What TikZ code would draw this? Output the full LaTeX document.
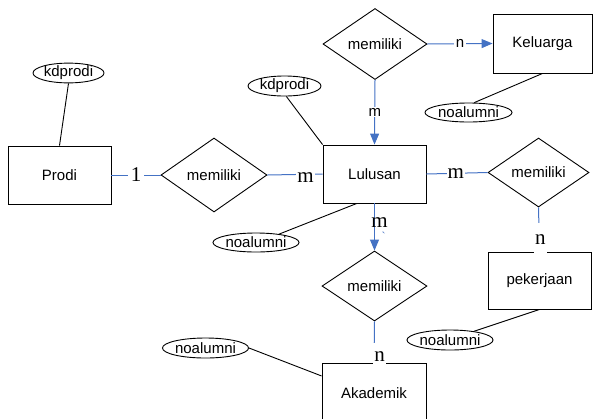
\documentclass[tikz,border=0pt]{standalone}
\usepackage{fontspec}
\setmainfont{Liberation Sans}
\newfontfamily\serifl{Liberation Serif}
\usetikzlibrary{shapes.geometric,arrows.meta}
\definecolor{relblue}{RGB}{68,114,196}
\begin{document}
\begin{tikzpicture}[x=1pt,y=-1pt,
  every node/.style={font=\fontsize{15}{17}\selectfont},
  entity/.style={draw,line width=0.9pt,rectangle,inner sep=0pt},
  relation/.style={draw,line width=0.9pt,diamond,inner sep=0pt},
  attrib/.style={draw,line width=0.9pt,ellipse,inner sep=0pt},
  attline/.style={draw,line width=0.9pt},
  relline/.style={draw=relblue,line width=1pt},
  relarrow/.style={relline,-{Triangle[length=11pt,width=9pt]}},
  sanslbl/.style={fill=white,inner xsep=1.5pt,inner ysep=1pt,text=black},
  seriflbl/.style={font=\serifl\fontsize{21}{23}\selectfont,text=black},
  cutlbl/.style={seriflbl,fill=white,inner xsep=1pt,inner ysep=0.5pt}]
\useasboundingbox (0,0) rectangle (593,418);

% entities
\node[entity,minimum width=99,minimum height=59] (keluarga) at (542.5,43.5) {Keluarga};
\node[entity,minimum width=103,minimum height=58] (lulusan) at (374.5,174) {Lulusan};
\node[entity,minimum width=103,minimum height=58] (prodi) at (59.5,175) {Prodi};
\node[entity,minimum width=103,minimum height=57] (pekerjaan) at (539.5,280.5) {pekerjaan};
\node[entity,minimum width=104,minimum height=60] (akademik) at (374,393) {Akademik};

% relationships
\node[relation,minimum width=104,minimum height=71] (dtop) at (375,44) {memiliki};
\node[relation,minimum width=106,minimum height=74] (dleft) at (214,175) {memiliki};
\node[relation,minimum width=101,minimum height=69] (dright) at (538.5,172.5) {memiliki};
\node[relation,minimum width=105,minimum height=70] (dbot) at (374.5,286) {memiliki};

% attributes
\node[attrib,minimum width=71,minimum height=16] (kd1) at (68.5,73) {kdprodi};
\node[attrib,minimum width=73,minimum height=20] (kd2) at (284.5,86) {kdprodi};
\node[attrib,minimum width=87,minimum height=19] (na1) at (468.5,112.5) {noalumni};
\node[attrib,minimum width=84,minimum height=19] (na2) at (256,242.5) {noalumni};
\node[attrib,minimum width=84,minimum height=20] (na3) at (450,340) {noalumni};
\node[attrib,minimum width=85,minimum height=20] (na4) at (205.5,348) {noalumni};

% attribute lines
\draw[attline] (kd1.south) -- (prodi.north);
\draw[attline] (kd2.-80) -- (lulusan.north west);
\draw[attline] (na1.60) -- (keluarga.south);
\draw[attline] (na2.20) -- (lulusan.-121);
\draw[attline] (na3.20) -- (pekerjaan.south);
\draw[attline] (na4.east) -- (akademik.162);

% relationship connectors
\draw[relarrow] (dtop.east) -- node[sanslbl] {n} (keluarga.west);
\draw[relarrow] (dtop.south) -- node[sanslbl] {m} (lulusan.north);
\draw[relline] (prodi.east) -- node[cutlbl,inner xsep=2.5pt] {1} (dleft.west);
\draw[relline] (dleft.east) -- node[cutlbl,pos=0.69,yshift=-3] {m} (lulusan.west);
\draw[relline] (lulusan.east) -- node[cutlbl,pos=0.48] {m} (dright.west);
\draw[relline] (dright.south) -- node[cutlbl,pos=0.84,anchor=base,xshift=1,text height=22pt,text depth=8pt,inner ysep=0pt] {n} (pekerjaan.north);
\draw[relarrow] (lulusan.south) -- node[seriflbl,pos=0.5,anchor=base,xshift=5,inner sep=0pt] {m}
  node[pos=0.7,xshift=9,inner sep=0pt,text=relblue,font=\serifl\fontsize{12}{12}\selectfont] {\textasciigrave} (dbot.north);
\draw[relline] (dbot.south) -- node[cutlbl,pos=0.976,anchor=base,xshift=5.5,text height=19pt,text depth=3pt,inner ysep=0pt] {n} (akademik.north);
\end{tikzpicture}
\end{document}
